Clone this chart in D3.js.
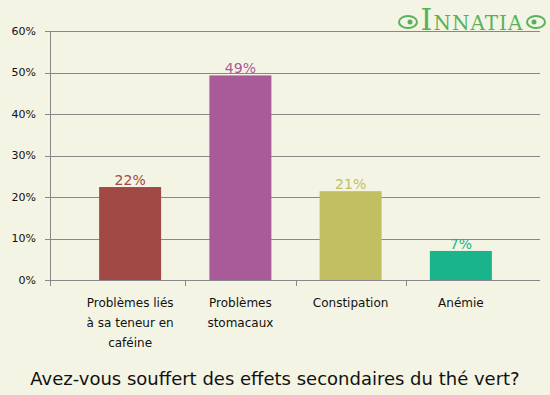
<!DOCTYPE html>
<html lang="fr">
<head>
<meta charset="UTF-8">
<title>thé vert</title>
<style>
  body { margin: 0; background: #f4f4e4; }
  svg { display: block; font-family: "DejaVu Sans", Verdana, sans-serif; }
</style>
</head>
<body>
<div id="container"></div>
<script src="https://d3js.org/d3.v7.min.js"></script>
<script>
var categories = [
  ["Problèmes liés", "à sa teneur en", "caféine"],
  ["Problèmes", "stomacaux"],
  ["Constipation"],
  ["Anémie"]
];
var values = [22.4, 49.3, 21.4, 7.0];
var colors = ["#a04945", "#a95a98", "#c1bf62", "#1ab48c"];
var yTicks = [0, 10, 20, 30, 40, 50, 60];
var title = "Avez-vous souffert des effets secondaires du thé vert?";

var width = 550, height = 395;
var plot = {left: 50, right: 540, top: 31, bottom: 280};

var svg = d3.select("#container").append("svg")
    .attr("width", width)
    .attr("height", height);

svg.append("rect").attr("width", width).attr("height", height).attr("fill", "#f4f4e4");

var x = d3.scaleBand()
    .domain(d3.range(categories.length))
    .range([75, 516]);

var y = d3.scaleLinear()
    .domain([0, 60])
    .range([plot.bottom, plot.top]);

var barW = 62;

// grid
svg.append("g").selectAll("line")
    .data(yTicks)
    .enter().append("line")
    .attr("x1", plot.left - 5)
    .attr("x2", plot.right)
    .attr("y1", function(d) { return Math.round(y(d)) + 0.5; })
    .attr("y2", function(d) { return Math.round(y(d)) + 0.5; })
    .attr("stroke", "#888")
    .attr("stroke-width", 1);

svg.append("g").selectAll("text")
    .data(yTicks)
    .enter().append("text")
    .attr("x", 36)
    .attr("y", function(d) { return y(d); })
    .attr("dy", "0.35em")
    .attr("text-anchor", "end")
    .attr("font-size", 11)
    .attr("fill", "#111")
    .text(function(d) { return d + "%"; });

// y axis line
svg.append("line")
    .attr("x1", plot.left + 0.5).attr("x2", plot.left + 0.5)
    .attr("y1", plot.top).attr("y2", plot.bottom + 6)
    .attr("stroke", "#888");

// category ticks
svg.append("g").selectAll("line")
    .data(d3.range(1, categories.length))
    .enter().append("line")
    .attr("x1", function(d) { return Math.round(x(d)) + 0.5; })
    .attr("x2", function(d) { return Math.round(x(d)) + 0.5; })
    .attr("y1", plot.bottom)
    .attr("y2", plot.bottom + 6)
    .attr("stroke", "#888");

// bars
svg.append("g").selectAll("rect")
    .data(values)
    .enter().append("rect")
    .attr("x", function(d, i) { return x(i) + x.bandwidth() / 2 - barW / 2; })
    .attr("y", function(d) { return y(d); })
    .attr("width", barW)
    .attr("height", function(d) { return plot.bottom - y(d); })
    .attr("fill", function(d, i) { return colors[i]; });

// value labels
svg.append("g").selectAll("text")
    .data(values)
    .enter().append("text")
    .attr("x", function(d, i) { return x(i) + x.bandwidth() / 2; })
    .attr("y", function(d) { return y(d) - 2; })
    .attr("text-anchor", "middle")
    .attr("font-size", 14)
    .attr("fill", function(d, i) { return colors[i]; })
    .text(function(d) { return Math.round(d) + "%"; });

// category labels
var cat = svg.append("g").selectAll("text")
    .data(categories)
    .enter().append("text")
    .attr("text-anchor", "middle")
    .attr("font-size", 12)
    .attr("fill", "#111");

cat.selectAll("tspan")
    .data(function(d, i) { return d.map(function(s) { return {s: s, i: i}; }); })
    .enter().append("tspan")
    .attr("x", function(d) { return x(d.i) + x.bandwidth() / 2; })
    .attr("y", function(d, j) { return 307 + j * 20; })
    .text(function(d) { return d.s; });

// title
svg.append("text")
    .attr("x", width / 2)
    .attr("y", 385)
    .attr("text-anchor", "middle")
    .attr("font-size", 18)
    .attr("fill", "#111")
    .text(title);

// logo
var logo = svg.append("g").attr("fill", "#55b25a");
logo.append("text")
    .attr("x", 472)
    .attr("y", 30)
    .attr("text-anchor", "middle")
    .attr("font-family", "'DejaVu Serif', serif")
    .attr("font-size", 20)
    .attr("letter-spacing", 1)
    .html('<tspan font-size="30">I</tspan>NNATIA');
[408, 536].forEach(function(cx, k) {
  logo.append("ellipse")
    .attr("cx", cx).attr("cy", 22).attr("rx", 9).attr("ry", 6)
    .attr("fill", "none").attr("stroke", "#55b25a").attr("stroke-width", 2);
  logo.append("circle").attr("cx", cx + (k ? -2 : 2)).attr("cy", 22).attr("r", 2.5);
});
</script>
</body>
</html>
